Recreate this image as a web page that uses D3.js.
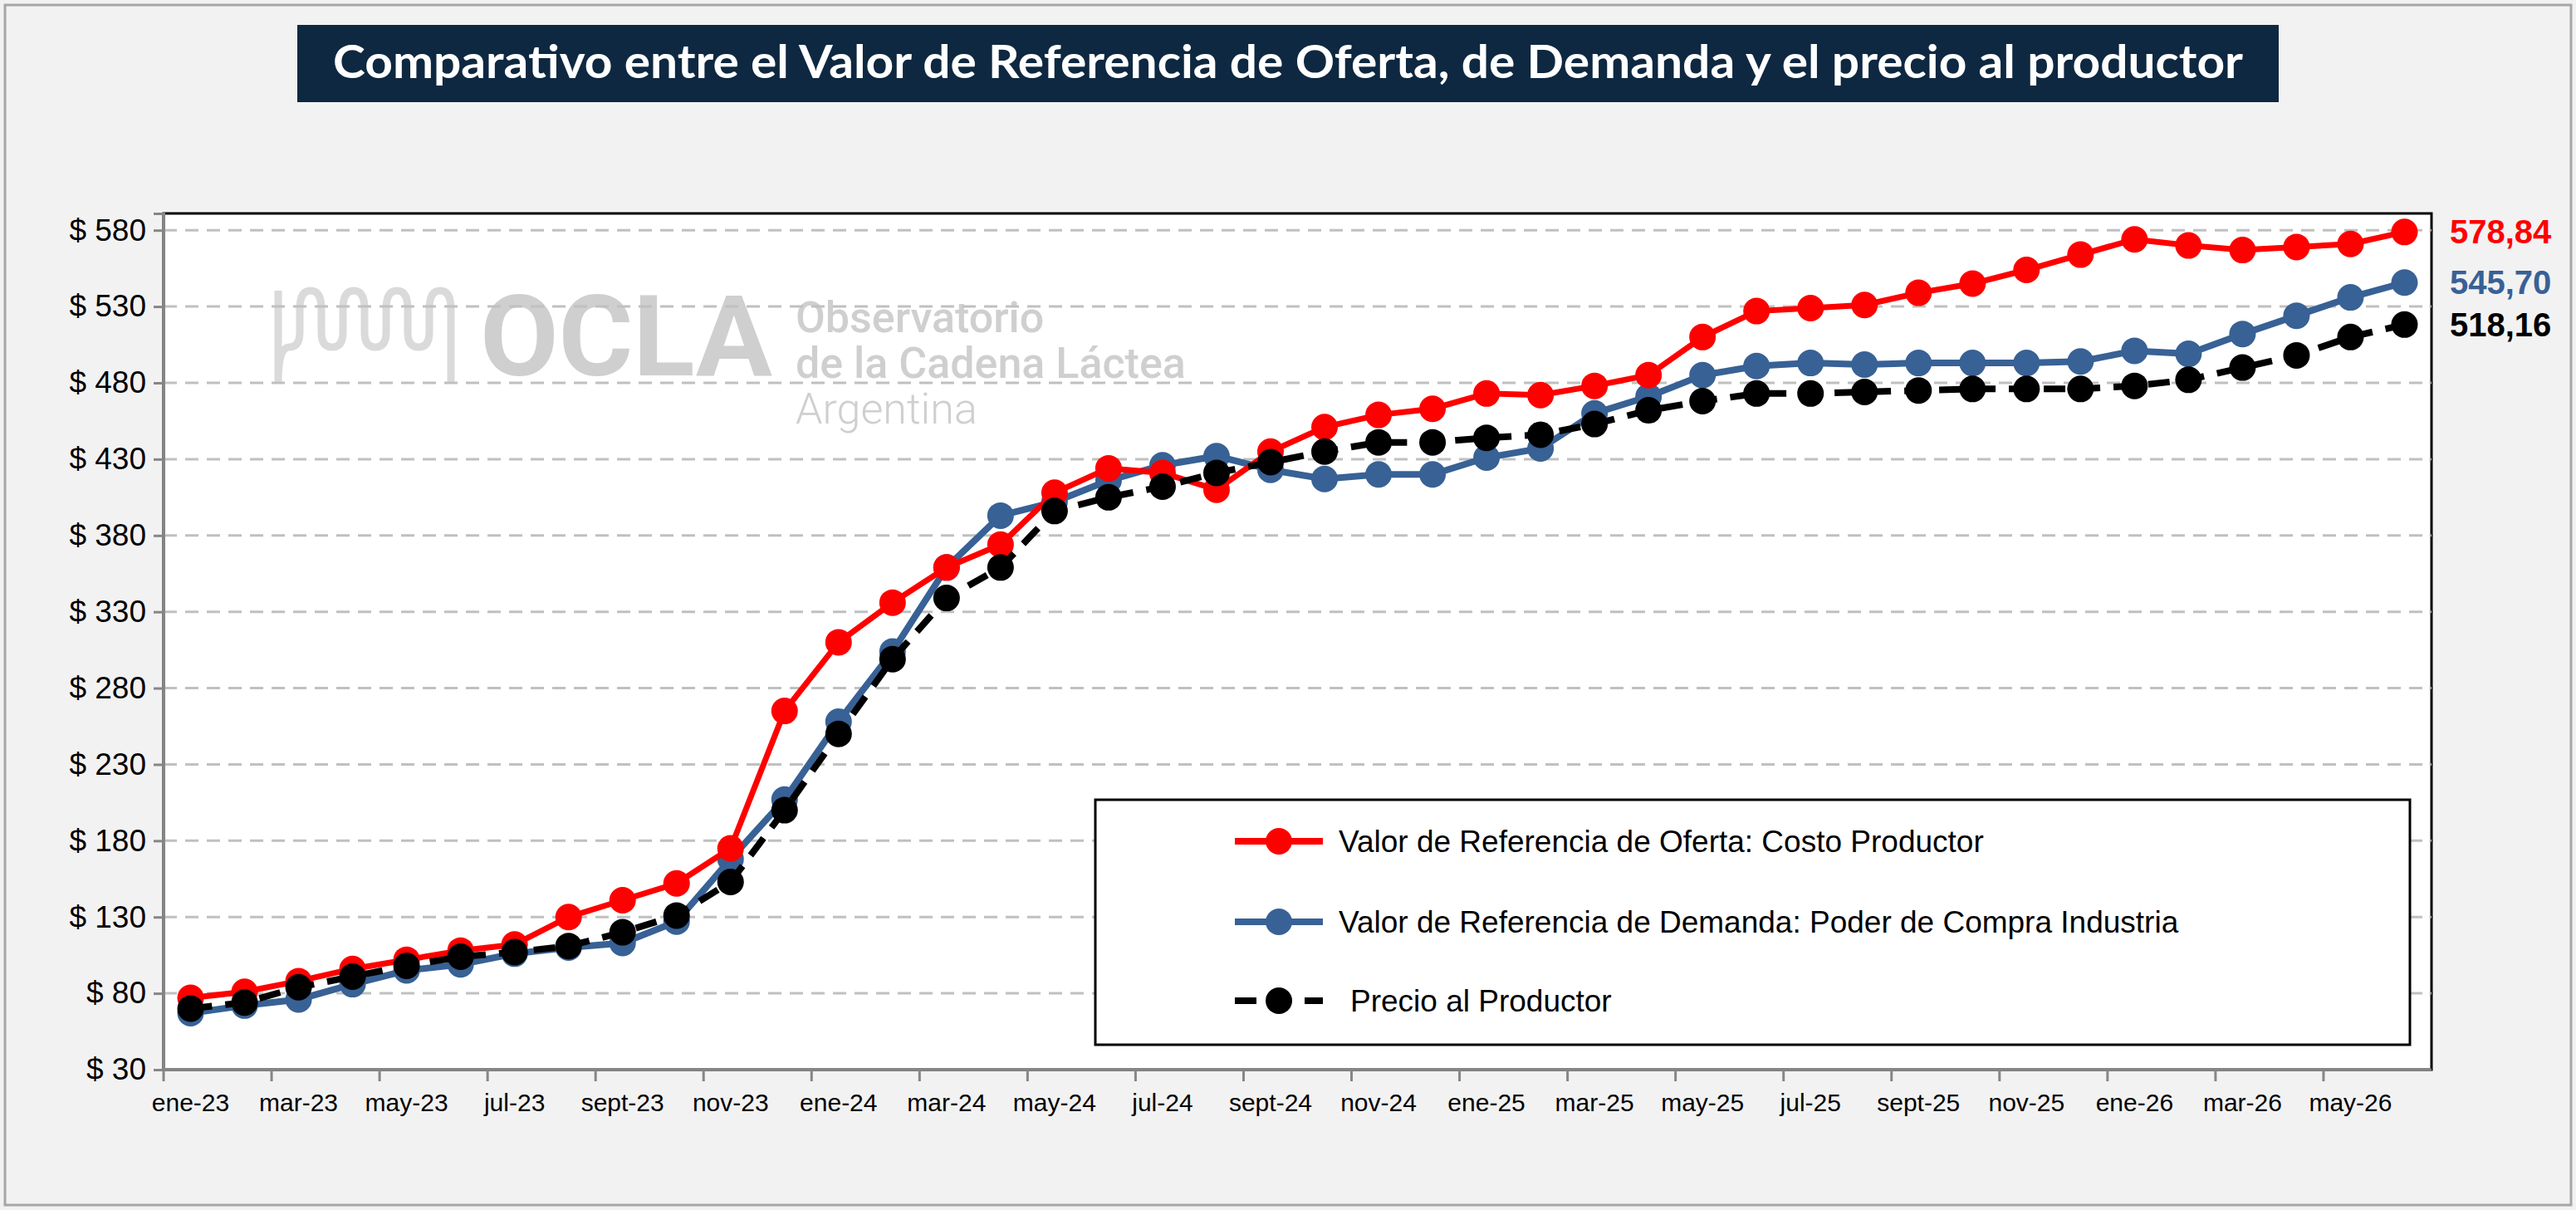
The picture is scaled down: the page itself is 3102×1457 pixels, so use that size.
<!DOCTYPE html>
<html><head><meta charset="utf-8">
<script src="https://cdn.jsdelivr.net/npm/d3@7"></script>
<style>html,body{margin:0;padding:0;background:#f2f2f2;}</style>
</head><body>
<script>
const months = ["ene-23","feb-23","mar-23","abr-23","may-23","jun-23","jul-23","ago-23","sept-23","oct-23","nov-23","dic-23",
"ene-24","feb-24","mar-24","abr-24","may-24","jun-24","jul-24","ago-24","sept-24","oct-24","nov-24","dic-24",
"ene-25","feb-25","mar-25","abr-25","may-25","jun-25","jul-25","ago-25","sept-25","oct-25","nov-25","dic-25",
"ene-26","feb-26","mar-26","abr-26","may-26","jun-26"];
const oferta = [77,81,88,96,102,108,112,130,141,152,175,265,310,336,359,374,408,424,421,410,435,451,459,463,473,472,478,485,510,527,529,531,539,545,554,564,574,570,567,569,571,578.84];
const demanda = [67,72,76,86,95,99,106,110,113,127,168,207,258,304,359,393,402,416,426,432,423,417,420,420,431,437,460,471,485,491,493,492,493,493,493,494,501,499,512,524,536,545.70];
const precio = [70,74,84,91,98,104,107,111,120,131,153,200,250,299,339,359,396,405,412,421,428,435,441,441,444,446,453,462,468,473,473,474,475,476,476,476,478,482,490,498,510,518.16];
const yTicks = [30,80,130,180,230,280,330,380,430,480,530,580];
const seriesNames = ["Valor de Referencia de Oferta: Costo Productor","Valor de Referencia de Demanda: Poder de Compra Industria","Precio al Productor"];
const endLabels = ["578,84","545,70","518,16"];

const W=3102,H=1457;
const svg=d3.select("body").append("svg").attr("width",W).attr("height",H);
svg.append("rect").attr("x",6).attr("y",6).attr("width",W-12).attr("height",H-12).attr("fill","#f2f2f2").attr("stroke","#a6a6a6").attr("stroke-width",3);

svg.append("rect").attr("x",358).attr("y",30).attr("width",2386).attr("height",93).attr("fill","#0e2841");
svg.append("text").attr("x",1551).attr("y",94).attr("text-anchor","middle").attr("fill","#fff")
 .attr("font-family","Lato, sans-serif").attr("font-weight","bold").attr("font-size",56)
 .attr("textLength",2300).attr("lengthAdjust","spacingAndGlyphs")
 .text("Comparativo entre el Valor de Referencia de Oferta, de Demanda y el precio al productor");

const L=197,R=2928,T=257,B=1288;
svg.append("rect").attr("x",L).attr("y",T).attr("width",R-L).attr("height",B-T).attr("fill","#fff").attr("stroke","#000").attr("stroke-width",3);

const x=d3.scaleBand().domain(months).range([L,R]);
const y=d3.scaleLinear().domain([30,591]).range([B,T]);

// watermark
svg.append("path").attr("d",(()=>{let s="M335,350 ";for(let k=0;k<4;k++){const a=335+k*52;s+=`L${a},${k===0?460:400} Q${a},418 ${a+13},418 Q${a+26},418 ${a+26},400 L${a+26},372 Q${a+26},350 ${a+39},350 Q${a+52},350 ${a+52},372 `;}s+="L543,460";return s;})())
 .attr("fill","none").attr("stroke","#dadada").attr("stroke-width",9);
const wm=svg.append("g").attr("fill","#cfcfcf");
wm.append("text").attr("x",578).attr("y",452).attr("font-family","Roboto, sans-serif").attr("font-weight","bold").attr("font-size",135).attr("textLength",352).attr("lengthAdjust","spacingAndGlyphs").text("OCLA");
wm.append("text").attr("x",958).attr("y",400).attr("font-family","Roboto, sans-serif").attr("font-weight","500").attr("font-size",52).text("Observatorio");
wm.append("text").attr("x",958).attr("y",455).attr("font-family","Roboto, sans-serif").attr("font-weight","500").attr("font-size",52).text("de la Cadena Láctea");
wm.append("text").attr("x",958).attr("y",510).attr("font-family","Roboto, sans-serif").attr("font-weight","300").attr("font-size",52).text("Argentina");

svg.append("g").selectAll("line").data(yTicks.slice(1)).join("line")
 .attr("x1",L).attr("x2",R).attr("y1",d=>y(d)).attr("y2",d=>y(d))
 .attr("stroke","#c0c0c0").attr("stroke-width",3).attr("stroke-dasharray","16,10");

const ya=svg.append("g").attr("transform",`translate(${L},0)`).call(d3.axisLeft(y).tickValues(yTicks).tickSize(12).tickFormat(d=>"$ "+d));
ya.select(".domain").attr("stroke","#868686").attr("stroke-width",3);
ya.selectAll(".tick line").attr("stroke","#868686").attr("stroke-width",3);
ya.selectAll("text").attr("font-family","'Liberation Sans', Arial, sans-serif").attr("font-size",37).attr("fill","#000").attr("dx",-6);

const xa=svg.append("g").attr("transform",`translate(0,${B})`);
xa.append("line").attr("x1",L).attr("x2",R).attr("stroke","#868686").attr("stroke-width",3);
xa.selectAll(".tk").data(months.filter((d,i)=>i%2===0)).join("line").attr("class","tk")
 .attr("x1",d=>x(d)).attr("x2",d=>x(d)).attr("y1",0).attr("y2",14).attr("stroke","#868686").attr("stroke-width",3);
xa.selectAll("text").data(months.filter((d,i)=>i%2===0)).join("text")
 .attr("x",d=>x(d)+x.bandwidth()/2).attr("y",50).attr("text-anchor","middle")
 .attr("font-family","'Liberation Sans', Arial, sans-serif").attr("font-size",30).text(d=>d);

const colors=["#ff0000","#386195","#000000"];
const data=[oferta,demanda,precio];
const line=d3.line().x((d,i)=>x(months[i])+x.bandwidth()/2).y(d=>y(d));
[1,0,2].forEach(k=>{
 const g=svg.append("g");
 g.append("path").attr("d",line(data[k])).attr("fill","none").attr("stroke",colors[k]).attr("stroke-width",k===0?7:8)
  .attr("stroke-dasharray",k===2?"26,16":null);
 g.selectAll("circle").data(data[k]).join("circle").attr("cx",(d,i)=>x(months[i])+x.bandwidth()/2).attr("cy",d=>y(d)).attr("r",16).attr("fill",colors[k]);
 g.append("text").attr("x",R+22).attr("y",y(data[k][data[k].length-1])+14).attr("fill",colors[k])
  .attr("font-family","'Liberation Sans Narrow', 'Liberation Sans', sans-serif").attr("font-weight","bold").attr("font-size",40).text(endLabels[k]);
});

const lg=svg.append("g");
lg.append("rect").attr("x",1319).attr("y",963).attr("width",1583).attr("height",295).attr("fill","#fff").attr("stroke","#000").attr("stroke-width",3);
const ly=[1013,1110,1205];
seriesNames.forEach((n,k)=>{
 lg.append("line").attr("x1",1487).attr("x2",1593).attr("y1",ly[k]).attr("y2",ly[k]).attr("stroke",colors[k]).attr("stroke-width",8).attr("stroke-dasharray",k===2?"26,16":null);
 lg.append("circle").attr("cx",1540).attr("cy",ly[k]).attr("r",16).attr("fill",colors[k]);
 lg.append("text").attr("x",k===2?1626:1612).attr("y",ly[k]+13).attr("font-family","'Liberation Sans', Arial, sans-serif").attr("font-size",37).text(n);
});
</script>
</body></html>
